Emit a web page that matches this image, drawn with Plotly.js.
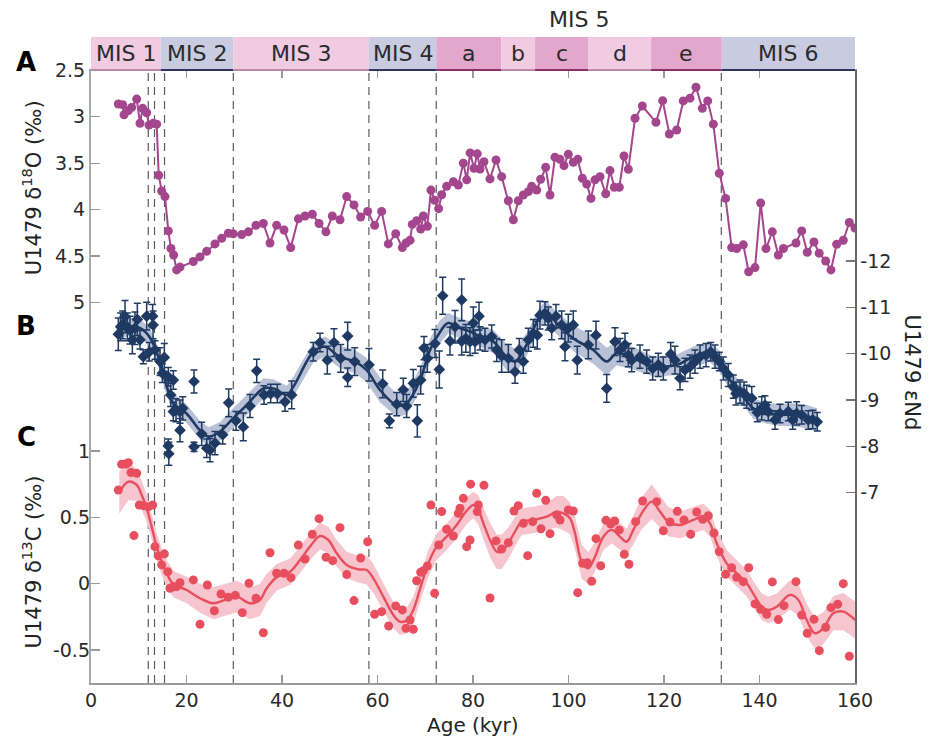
<!DOCTYPE html>
<html>
<head>
<meta charset="utf-8">
<script src="https://cdn.plot.ly/plotly-3.0.1.min.js"></script>
<style>html,body{margin:0;padding:0;background:#fff;}#chart{width:931px;height:741px;}</style>
</head>
<body>
<div id="chart"></div>
<script>
// ---------------- data ----------------
const ageD18O = [5.72,6.63,6.91,7.82,8.52,9.57,10.26,10.82,11.66,12.15,13.05,13.76,14.18,14.8,15.5,16.19,16.75,17.3,17.94,18.64,21.43,22.83,24.23,25.97,27.37,28.76,29.8,31.56,32.95,34.55,36.09,37.49,38.88,40.42,41.82,43.42,44.82,46.35,47.75,49.21,50.54,52.15,53.55,55.08,56.47,57.94,59.41,60.87,62.27,63.81,65.2,65.97,66.81,67.29,68.2,69.05,69.6,70.44,71.2,71.97,72.8,73.44,74.48,75.88,76.93,77.97,78.68,79.4,80.21,80.9,81.47,82.3,83.56,84.82,86.0,87.4,88.45,89.49,90.54,91.59,92.29,93.34,94.17,95.22,96.13,97.17,98.22,99.06,99.96,101.0,101.93,102.9,103.81,104.71,105.55,106.6,107.79,108.69,109.6,110.64,111.62,112.53,113.93,115.46,118.32,119.72,121.12,122.66,124.04,125.45,126.7,128.02,129.15,130.33,131.58,132.9,134.17,135.22,136.61,137.73,139.06,140.25,141.36,142.69,143.94,145.0,147.64,148.84,150.0,151.4,152.5,153.86,154.97,156.16,157.55,158.81,160.0];
const d18O = [2.863,2.87,2.98,2.935,2.90,2.81,3.07,2.91,2.957,3.09,3.07,3.08,3.63,3.80,3.86,4.23,4.42,4.49,4.65,4.62,4.56,4.51,4.45,4.37,4.31,4.255,4.26,4.27,4.24,4.17,4.15,4.36,4.17,4.22,4.41,4.10,4.07,4.05,4.15,4.24,4.07,4.11,3.86,3.95,4.08,4.02,4.17,4.02,4.37,4.26,4.41,4.36,4.33,4.16,4.12,4.21,4.07,4.18,3.79,3.90,3.99,3.84,3.75,3.70,3.735,3.50,3.68,3.39,3.555,3.40,3.563,3.485,3.67,3.466,3.646,3.905,4.11,3.905,3.843,3.807,3.75,3.79,3.674,3.545,3.843,3.437,3.459,3.527,3.405,3.49,3.459,3.663,3.725,3.88,3.68,3.646,3.83,3.58,3.76,3.76,3.423,3.566,3.017,2.885,3.06,2.827,3.186,3.143,2.83,2.80,2.683,2.91,2.83,3.08,3.61,3.88,4.41,4.42,4.38,4.67,4.625,3.93,4.42,4.24,4.49,4.42,4.36,4.23,4.46,4.35,4.47,4.554,4.65,4.374,4.33,4.14,4.20];

const ageNd = [5.72,6.21,6.63,7.12,7.61,8.17,8.66,9.21,9.70,10.26,10.96,11.66,12.22,12.91,13.0,13.4,14.45,14.94,15.36,16.19,16.19,16.3,16.69,17.24,17.24,17.8,18.64,18.64,19.2,21.57,21.57,23.18,24.23,24.92,25.97,27.58,28.83,30.37,31.9,33.3,34.7,36.23,37.63,39.02,40.63,42.03,46.56,47.96,49.49,50.89,52.29,53.75,53.75,55.22,58.22,61.09,62.48,64.02,65.4,66.1,67.5,68.34,69.05,69.74,70.44,72.04,72.95,73.65,75.18,76.23,77.63,77.63,78.5,79.37,80.07,80.42,81.26,81.47,82.51,83.91,84.96,86.0,87.4,88.8,89.7,90.54,91.59,92.63,93.47,94.03,95.08,95.77,96.48,97.38,98.57,99.27,99.96,101.0,101.84,104.15,105.76,108.0,109.74,110.79,111.83,112.53,113.23,114.97,116.37,117.63,118.81,119.86,121.4,122.3,123.35,124.4,125.45,126.49,127.54,128.8,129.78,130.68,131.58,132.42,133.46,134.51,135.08,135.92,136.75,137.32,138.37,139.54,140.46,141.15,141.84,143.25,144.29,146.03,146.95,147.79,148.84,150.22,151.14,152.1];
const eNd = [-10.42,-10.58,-10.62,-10.80,-10.58,-10.51,-10.30,-10.55,-10.74,-10.30,-9.935,-10.81,-10.04,-10.81,-10.62,-10.08,-9.83,-9.58,-9.92,-9.50,-8.01,-7.84,-9.11,-9.43,-8.75,-8.78,-8.75,-8.35,-8.82,-9.40,-7.99,-8.27,-7.96,-7.92,-8.07,-8.25,-8.94,-8.55,-8.42,-8.87,-9.63,-9.11,-9.14,-9.14,-8.96,-9.11,-10.04,-10.24,-9.86,-10.24,-9.90,-9.49,-10.38,-9.83,-9.76,-9.35,-8.55,-8.91,-9.22,-8.87,-9.36,-8.55,-9.43,-10.12,-9.90,-10.22,-9.66,-11.25,-10.27,-10.58,-11.16,-10.27,-10.33,-10.26,-10.66,-10.26,-10.81,-10.33,-10.30,-10.37,-10.08,-9.95,-9.90,-9.61,-10.08,-9.83,-10.30,-10.44,-10.40,-10.83,-10.87,-10.76,-10.55,-10.81,-10.62,-10.15,-10.55,-10.62,-9.86,-10.19,-10.40,-9.25,-10.26,-10.08,-10.19,-9.97,-9.86,-9.935,-9.83,-9.68,-9.76,-9.68,-9.99,-9.86,-9.47,-9.65,-9.72,-9.83,-9.935,-9.97,-10.04,-9.935,-9.83,-9.68,-9.54,-9.29,-9.14,-9.18,-9.14,-9.07,-9.04,-8.73,-8.82,-8.89,-8.75,-8.57,-8.71,-8.75,-8.57,-8.71,-8.68,-8.57,-8.58,-8.53];
const eNdErr = [0.35,0.3,0.3,0.35,0.3,0.3,0.3,0.35,0.35,0.2,0.15,0.3,0.2,0.25,0.3,0.2,0.3,0.2,0.3,0.2,0.15,0.25,0.25,0.2,0.2,0.25,0.25,0.25,0.25,0.25,0.1,0.25,0.2,0.25,0.25,0.2,0.3,0.2,0.3,0.25,0.25,0.2,0.2,0.2,0.2,0.3,0.2,0.2,0.3,0.3,0.3,0.2,0.3,0.3,0.35,0.3,0.15,0.25,0.25,0.25,0.3,0.35,0.3,0.25,0.3,0.3,0.4,0.4,0.3,0.35,0.45,0.3,0.3,0.3,0.35,0.25,0.3,0.25,0.25,0.25,0.25,0.35,0.3,0.25,0.25,0.25,0.25,0.3,0.3,0.3,0.25,0.25,0.25,0.25,0.3,0.3,0.3,0.3,0.3,0.3,0.3,0.3,0.3,0.25,0.25,0.25,0.25,0.25,0.25,0.25,0.25,0.25,0.25,0.3,0.25,0.25,0.25,0.25,0.25,0.25,0.2,0.25,0.2,0.25,0.25,0.25,0.25,0.25,0.25,0.25,0.25,0.2,0.25,0.2,0.2,0.2,0.2,0.2,0.2,0.25,0.2,0.2,0.2,0.2];

const ageNdFit = [5.7,8,10.3,12.4,14.1,15.5,17.2,20.0,22.8,24.6,27,29.8,32.6,36.1,38.2,41,42.4,46.6,49,52.1,55.3,57.7,60.5,64,66.1,68.9,71,73.1,74.8,77.3,79.4,81.5,84.3,87,88.8,91.2,94,95.4,97.5,101,105.2,108,110.1,113.6,117.8,122.7,126.1,129.6,131.7,133.8,135.9,138.7,141.5,144.3,147.1,149.9,152.1];
const eNdFit = [-10.55,-10.58,-10.55,-10.34,-9.93,-9.43,-8.93,-8.71,-8.35,-8.21,-8.32,-8.61,-8.89,-9.25,-9.25,-9.11,-9.29,-10.04,-10.15,-9.93,-9.83,-9.65,-9.22,-8.89,-8.93,-9.43,-10.08,-10.47,-10.66,-10.55,-10.48,-10.37,-10.26,-9.93,-9.83,-10.19,-10.80,-10.91,-10.66,-10.33,-10.08,-9.83,-10.01,-9.90,-9.72,-9.76,-9.935,-10.04,-9.83,-9.43,-9.18,-8.82,-8.71,-8.68,-8.68,-8.64,-8.57];
const eNdFitHalf = [0.22,0.2,0.2,0.2,0.2,0.22,0.22,0.2,0.2,0.2,0.2,0.22,0.22,0.22,0.2,0.2,0.22,0.22,0.22,0.24,0.25,0.26,0.27,0.25,0.25,0.25,0.25,0.25,0.22,0.22,0.22,0.22,0.25,0.28,0.28,0.25,0.22,0.22,0.24,0.28,0.3,0.3,0.26,0.24,0.22,0.22,0.22,0.22,0.22,0.22,0.22,0.22,0.22,0.24,0.25,0.25,0.25];

const ageD13C = [5.72,6.42,7.33,7.82,8.38,9.0,9.57,10.12,10.96,12.0,12.91,13.4,14.1,14.8,15.36,16.06,16.54,17.24,17.94,18.64,21.43,22.83,24.37,25.83,27.23,28.76,30.22,31.69,33.09,34.55,36.09,37.49,38.88,40.42,41.88,43.42,44.82,46.35,47.75,49.21,50.61,52.15,53.55,55.08,56.47,57.94,59.41,60.87,62.34,63.81,65.2,65.97,66.81,67.5,68.2,69.05,69.6,70.44,71.2,71.97,72.8,73.44,74.48,75.88,76.93,77.28,77.97,78.68,79.37,79.5,80.9,81.12,82.3,83.56,84.82,86.0,87.4,88.59,89.49,90.54,91.45,92.5,93.34,94.24,95.22,96.13,97.53,98.22,99.96,101.0,101.93,102.97,103.94,104.85,105.76,106.74,107.85,108.84,109.67,110.64,111.69,112.67,114.07,115.53,118.47,119.86,121.26,122.79,124.19,125.59,126.84,128.1,129.28,130.47,131.58,132.9,134.17,135.22,136.61,137.73,139.06,140.25,141.5,142.69,143.94,145.13,147.64,148.84,150.0,151.4,152.53,153.86,154.97,156.37,157.55,158.81];
const d13C = [0.706,0.90,0.902,0.912,0.837,0.362,0.832,0.593,0.588,0.58,0.593,0.279,0.209,0.141,0.224,0.09,-0.035,-0.023,-0.023,0.007,0.028,-0.306,-0.01,-0.204,-0.078,-0.103,-0.088,-0.219,0.003,-0.11,-0.37,0.233,0.078,0.078,0.045,0.291,0.186,0.372,0.49,0.199,0.173,0.422,0.068,-0.128,0.193,0.316,-0.231,-0.211,-0.319,-0.168,-0.198,-0.336,-0.274,-0.344,0.022,0.086,0.098,0.133,0.593,-0.073,0.291,0.543,0.41,0.359,0.53,0.568,0.643,0.279,0.329,0.75,0.543,0.593,0.741,-0.108,0.322,0.261,0.309,0.548,0.588,0.455,0.211,0.467,0.681,0.414,0.628,0.377,0.518,0.48,0.555,0.548,-0.068,0.153,0.158,0.018,0.339,0.135,0.478,0.45,0.472,0.405,0.221,0.146,0.467,0.623,0.618,0.399,0.465,0.545,0.48,0.372,0.54,0.485,0.512,0.382,0.241,0.071,0.12,0.048,0.015,0.12,-0.153,-0.193,-0.231,0.013,-0.271,-0.166,0.015,-0.236,-0.374,-0.269,-0.505,-0.329,-0.181,-0.155,0.0,-0.547];

const ageD13CFit = [5.93,7.82,9.57,10.61,11.66,12.7,13.76,14.8,15.85,17.24,20.03,22.83,25.62,28.41,30.5,33.3,35.39,36.79,38.88,41.68,43.77,45.86,47.96,49.7,51.45,53.55,55.98,57.73,59.13,61.22,63.31,64.71,66.24,67.5,69.05,70.64,72.39,74.48,76.58,78.68,80.07,81.12,82.17,83.56,84.96,86.0,87.4,88.8,90.19,92.63,95.43,97.53,98.92,100.31,101.36,102.76,104.15,105.55,107.3,109.04,110.79,112.19,113.58,115.33,117.43,119.16,120.9,123.35,126.14,128.24,129.63,131.03,133.12,135.22,137.31,139.06,140.46,141.85,143.6,146.39,148.14,149.88,151.62,153.37,155.46,157.55,160.0];
const d13CFit = [0.686,0.769,0.744,0.668,0.568,0.43,0.279,0.166,0.078,-0.003,-0.048,-0.11,-0.148,-0.118,-0.098,-0.148,-0.123,-0.035,0.048,0.09,0.178,0.279,0.359,0.329,0.229,0.141,0.108,0.103,0.04,-0.098,-0.236,-0.287,-0.274,-0.198,-0.023,0.153,0.279,0.354,0.442,0.55,0.593,0.555,0.455,0.329,0.241,0.241,0.304,0.392,0.467,0.48,0.505,0.543,0.53,0.493,0.38,0.166,0.116,0.203,0.354,0.405,0.354,0.316,0.405,0.53,0.618,0.543,0.467,0.442,0.48,0.505,0.455,0.304,0.153,0.078,0.003,-0.098,-0.174,-0.198,-0.174,-0.085,-0.123,-0.274,-0.374,-0.336,-0.223,-0.211,-0.274];
const d13CFitHalf = [0.16,0.14,0.12,0.11,0.1,0.1,0.1,0.1,0.1,0.1,0.1,0.11,0.12,0.12,0.12,0.12,0.12,0.11,0.1,0.1,0.1,0.1,0.1,0.1,0.1,0.1,0.1,0.11,0.11,0.1,0.1,0.1,0.1,0.1,0.1,0.1,0.1,0.1,0.1,0.1,0.1,0.11,0.12,0.13,0.13,0.13,0.12,0.11,0.1,0.1,0.1,0.12,0.13,0.12,0.12,0.13,0.12,0.11,0.1,0.1,0.1,0.1,0.11,0.12,0.13,0.12,0.11,0.1,0.1,0.1,0.1,0.1,0.1,0.1,0.1,0.1,0.1,0.1,0.1,0.11,0.12,0.12,0.12,0.12,0.13,0.14,0.14];

const misBounds = [0,14.6,29.8,58.2,72.3,85.9,93,104.1,117.3,132.1,160];
const misLabels = ['MIS 1','MIS 2','MIS 3','MIS 4','a','b','c','d','e','MIS 6'];
const misKind = ['light','blue','light','blue','dark','light','dark','light','dark','blue'];
const mis5Label = 'MIS 5';
const boundaryAges = [12.0,13.3,15.4,29.8,58.2,72.3,132.0];

const xTicks = [0,20,40,60,80,100,120,140,160];
const d18OTicks = [2.5,3,3.5,4,4.5,5];
const d18OTickText = ['2.5','3','3.5','4','4.5','5'];
const eNdTicks = [-12,-11,-10,-9,-8,-7];
const eNdTickText = ['-12','-11','-10','-9','-8','-7'];
const d13CTicks = [-0.5,0,0.5,1];
const d13CTickText = ['-0.5','0','0.5','1'];

// ---------------- styles ----------------
const FONT = 'DejaVu Sans, Liberation Sans, Arial, sans-serif';
const C18 = '#A4468E';
const CND = '#1F3A62';
const CND_BAND = '#B9C1D6';
const C13 = '#E84F5E';
const C13_BAND = '#F7C5CE';
const bandFill = {light:'#F0CBE1', blue:'#C9CCE1', dark:'#E3A6CC'};
const bandEdge = {light:'#B98AA6', blue:'#2E3560', dark:'#8A2F66'};

function bandPoly(xs, ys, hs){
  const x = xs.concat(xs.slice().reverse());
  const y = ys.map((v,i)=>v+hs[i]).concat(ys.map((v,i)=>v-hs[i]).reverse());
  return {x, y};
}

const ndBand = bandPoly(ageNdFit, eNdFit, eNdFitHalf);
const cBand = bandPoly(ageD13CFit, d13CFit, d13CFitHalf);

const traces = [
  {x:cBand.x, y:cBand.y, yaxis:'y3', type:'scatter', mode:'lines', fill:'toself', fillcolor:C13_BAND, line:{width:0}, hoverinfo:'skip'},
  {x:ageD13CFit, y:d13CFit, yaxis:'y3', type:'scatter', mode:'lines', line:{color:C13, width:2.4, shape:'spline'}},
  {x:ageD13C, y:d13C, yaxis:'y3', type:'scatter', mode:'markers', marker:{color:C13, size:9}},
  {x:ndBand.x, y:ndBand.y, yaxis:'y2', type:'scatter', mode:'lines', fill:'toself', fillcolor:CND_BAND, line:{width:0}, hoverinfo:'skip'},
  {x:ageNdFit, y:eNdFit, yaxis:'y2', type:'scatter', mode:'lines', line:{color:CND, width:2.6, shape:'spline'}},
  {x:ageNd, y:eNd, yaxis:'y2', type:'scatter', mode:'markers', marker:{color:CND, size:9, symbol:'diamond'},
    error_y:{type:'data', array:eNdErr, visible:true, color:CND, thickness:1.5, width:3.5}},
  {x:ageD18O, y:d18O, yaxis:'y', type:'scatter', mode:'lines+markers', line:{color:C18, width:2}, marker:{color:C18, size:9}}
];

const shapes = [];
const annotations = [];
for (let i=0;i<misLabels.length;i++){
  const k = misKind[i];
  shapes.push({type:'rect', xref:'x', yref:'paper', x0:misBounds[i], x1:misBounds[i+1], y0:1.0, y1:1.054, fillcolor:bandFill[k], line:{width:0}, layer:'above'});
  shapes.push({type:'line', xref:'x', yref:'paper', x0:misBounds[i], x1:misBounds[i+1], y0:1.0, y1:1.0, line:{color:bandEdge[k], width:1.8}, layer:'above'});
  annotations.push({xref:'x', yref:'paper', x:(misBounds[i]+misBounds[i+1])/2, y:1.027, text:misLabels[i], showarrow:false, font:{family:FONT, size:22, color:'#2a2a2a'}, xanchor:'center', yanchor:'middle'});
}
annotations.push({xref:'x', yref:'paper', x:(misBounds[4]+misBounds[9])/2, y:1.082, text:mis5Label, showarrow:false, font:{family:FONT, size:22, color:'#2a2a2a'}, xanchor:'center', yanchor:'middle'});
boundaryAges.forEach(a=>{
  shapes.push({type:'line', xref:'x', yref:'paper', x0:a, x1:a, y0:0, y1:1, line:{color:'#5a5a5a', width:1.2, dash:'8px,6px'}, layer:'below'});
});

// panel letters and axis titles
annotations.push({xref:'paper', yref:'paper', x:-0.085, y:1.013, text:'<b>A</b>', showarrow:false, font:{family:FONT, size:26, color:'#000'}, xanchor:'center', yanchor:'middle'});
annotations.push({xref:'paper', yref:'paper', x:-0.085, y:0.5824, text:'<b>B</b>', showarrow:false, font:{family:FONT, size:26, color:'#000'}, xanchor:'center', yanchor:'middle'});
annotations.push({xref:'paper', yref:'paper', x:-0.085, y:0.4013, text:'<b>C</b>', showarrow:false, font:{family:FONT, size:26, color:'#000'}, xanchor:'center', yanchor:'middle'});
annotations.push({xref:'paper', yref:'paper', x:-0.077, y:0.8075, text:'U1479 δ<sup>18</sup>O (‰)', textangle:-90, showarrow:false, font:{family:FONT, size:21, color:'#222'}, xanchor:'center', yanchor:'middle'});
annotations.push({xref:'paper', yref:'paper', x:-0.077, y:0.197, text:'U1479 δ<sup>13</sup>C (‰)', textangle:-90, showarrow:false, font:{family:FONT, size:21, color:'#222'}, xanchor:'center', yanchor:'middle'});
annotations.push({xref:'paper', yref:'paper', x:1.0746, y:0.5065, text:'U1479 εNd', textangle:90, showarrow:false, font:{family:FONT, size:21, color:'#222'}, xanchor:'center', yanchor:'middle'});
annotations.push({xref:'paper', yref:'paper', x:0.5, y:-0.068, text:'Age (kyr)', showarrow:false, font:{family:FONT, size:20, color:'#222'}, xanchor:'center', yanchor:'middle'});

const tickFont = {family:FONT, size:19, color:'#2a2a2a'};
const layout = {
  width:931, height:741,
  margin:{l:91, r:76, t:70, b:58, pad:0},
  paper_bgcolor:'#fff', plot_bgcolor:'#fff',
  showlegend:false,
  font:{family:FONT, color:'#222'},
  xaxis:{range:[0,160], domain:[0,1], tickvals:xTicks, ticktext:xTicks.map(String), ticks:'inside', ticklen:8, tickcolor:'#999', tickwidth:1.2,
         showline:true, linecolor:'#999', linewidth:1.5, mirror:'ticks', showgrid:false, zeroline:false, tickfont:tickFont},
  yaxis:{range:[9.099,2.497], tickvals:d18OTicks, ticktext:d18OTickText, ticks:'inside', ticklen:9, tickcolor:'#999', tickwidth:1.2,
         showline:true, linecolor:'#aaa', linewidth:2, showgrid:false, zeroline:false, tickfont:tickFont},
  yaxis2:{overlaying:'y', side:'right', range:[-2.893,-16.122], tickvals:eNdTicks, ticktext:eNdTickText, ticks:'inside', ticklen:9, tickcolor:'#777', tickwidth:1.2,
         showline:true, linecolor:'#666', linewidth:1.5, showgrid:false, zeroline:false, tickfont:tickFont},
  yaxis3:{overlaying:'y', side:'left', range:[-0.749,3.872], tickvals:d13CTicks, ticktext:d13CTickText, ticks:'inside', ticklen:9, tickcolor:'#999', tickwidth:1.2,
         showline:false, showgrid:false, zeroline:false, tickfont:tickFont},
  shapes, annotations
};

Plotly.newPlot('chart', traces, layout, {displayModeBar:false, staticPlot:true});
</script>
</body>
</html>
